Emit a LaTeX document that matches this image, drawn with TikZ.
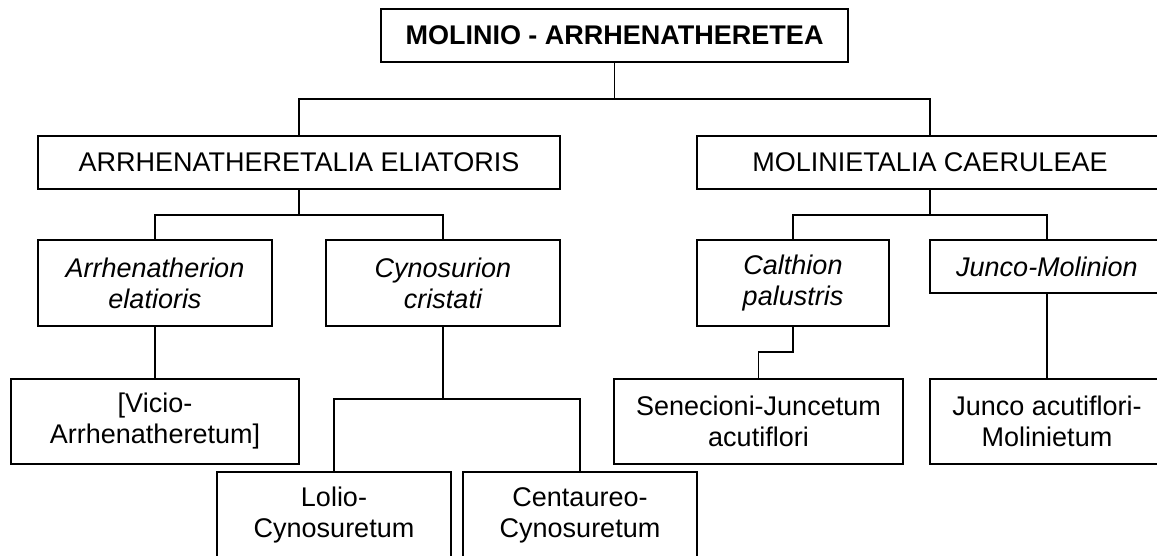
\documentclass[tikz,border=0pt]{standalone}
\usepackage{fontspec}
\setmainfont{Liberation Sans}
\begin{document}
\begin{tikzpicture}[x=1pt,y=-1pt,
  box/.style={draw, line width=1.9pt, inner sep=0pt, align=center,
    font=\fontsize{27}{31}\selectfont},
  thinbox/.style={box, line width=1.4pt},
  conn/.style={line width=1.9pt},
  thinconn/.style={line width=1.4pt}]
\useasboundingbox (0,0) rectangle (1157,555);
\clip (0,0) rectangle (1157,555);
% level 0
\node[box, minimum width=467pt, minimum height=53pt] (top) at (614.5,35.5) {\textbf{MOLINIO - ARRHENATHERETEA}};
% level 1
\node[box, minimum width=522pt, minimum height=53pt] (arr) at (299,162.5) {ARRHENATHERETALIA ELIATORIS};
\node[box, minimum width=466pt, minimum height=53pt] (mol) at (930,162.5) {MOLINIETALIA CAERULEAE};
% level 2
\node[box, minimum width=234pt, minimum height=86pt] (arrh) at (155,283) {\itshape Arrhenatherion\\\itshape elatioris};
\node[box, minimum width=234pt, minimum height=86pt] (cyn) at (443,283) {\itshape Cynosurion\\\itshape cristati};
\node[box, minimum width=192pt, minimum height=86pt] (calth) at (793,283) {\itshape Calthion\\\itshape palustris};
\node[box, minimum width=234pt, minimum height=53pt] (junmol) at (1047,266.5) {\itshape Junco-Molinion};
% level 3
\node[box, minimum width=288pt, minimum height=85pt] (vicio) at (155,421.5) {[Vicio-\\Arrhenatheretum]};
\node[box, minimum width=289pt, minimum height=85pt] (sen) at (758.5,421.5) {Senecioni-Juncetum\\acutiflori};
\node[box, minimum width=234pt, minimum height=85pt] (junac) at (1047,421.5) {Junco acutiflori-\\Molinietum};
% level 4
\node[thinbox, minimum width=234pt, minimum height=86pt] (lolio) at (334,515) {Lolio-\\Cynosuretum};
\node[thinbox, minimum width=234pt, minimum height=86pt] (cent) at (580,515) {Centaureo-\\Cynosuretum};
% rows for connectors
\coordinate (y1) at (0,99);
\coordinate (y2) at (0,215);
\coordinate (y3) at (0,352);
\coordinate (y4) at (0,399);
% connectors
\draw[conn] (top.south) -- (top.south |- y1);
\draw[conn] (arr.north) |- (y1 -| mol.north) -- (mol.north);
\draw[conn] (arr.south) -- (arr.south |- y2);
\draw[conn] (arrh.north) |- (y2 -| cyn.north) -- (cyn.north);
\draw[conn] (mol.south) -- (mol.south |- y2);
\draw[conn] (calth.north) |- (y2 -| junmol.north) -- (junmol.north);
\draw[conn] (arrh.south) -- (vicio.north);
\draw[conn] (cyn.south) -- (cyn.south |- y4);
\draw[thinconn] (lolio.north) |- (y4 -| cent.north) -- (cent.north);
\draw[conn] (calth.south) |- (y3 -| sen.north) -- (sen.north);
\draw[conn] (junmol.south) -- (junac.north);
\end{tikzpicture}
\end{document}
